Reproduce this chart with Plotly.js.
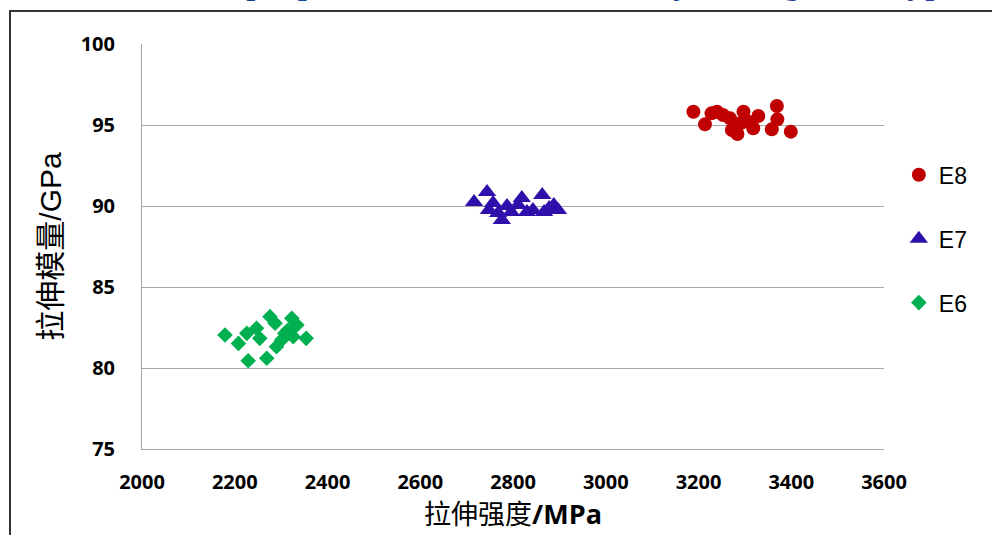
<!DOCTYPE html>
<html>
<head>
<meta charset="utf-8">
<script src="https://cdn.plot.ly/plotly-3.0.1.min.js"></script>
<style>
  html, body { margin: 0; padding: 0; background: #fff; }
  #wrap { position: relative; width: 992px; height: 535px; overflow: hidden; }
  #chart { position: absolute; left: 0; top: 0; width: 992px; height: 535px; }
  #frame { position: absolute; left: 9px; top: 10px; width: 990px; height: 540px;
           border-left: 2px solid #333; border-top: 2px solid #333; pointer-events: none; }
</style>
</head>
<body>
<div id="wrap">
  <div id="chart"></div>
  <div id="frame"></div>
</div>
<script>
// Series names
const seriesNames = ["E8", "E7", "E6"];

// E8: tensile strength (MPa) / tensile modulus (GPa)
const e8Strength = [3189, 3214, 3228, 3240, 3253, 3268, 3272, 3284, 3297, 3290, 3307, 3318, 3329, 3358, 3369, 3370, 3399];
const e8Modulus  = [95.82, 95.04, 95.72, 95.82, 95.62, 95.41, 94.69, 94.44, 95.82, 95.10, 95.20, 94.80, 95.56, 94.73, 96.17, 95.35, 94.59];

// E7
const e7Strength = [2716, 2744, 2748, 2757, 2768, 2776, 2787, 2796, 2811, 2819, 2830, 2843, 2863, 2867, 2878, 2888, 2897];
const e7Modulus  = [90.25, 90.86, 89.75, 90.19, 89.57, 89.14, 90.00, 89.63, 90.06, 90.49, 89.63, 89.75, 90.68, 89.63, 89.88, 90.06, 89.75];

// E6
const e6Strength = [2179, 2208, 2226, 2229, 2247, 2254, 2269, 2276, 2287, 2290, 2301, 2308, 2315, 2323, 2334, 2326, 2354];
const e6Modulus  = [82.04, 81.52, 82.14, 80.45, 82.45, 81.83, 80.60, 83.17, 82.76, 81.31, 81.73, 82.14, 82.35, 83.07, 82.65, 81.93, 81.83];

// Axis ticks
const xTicks = [2000, 2200, 2400, 2600, 2800, 3000, 3200, 3400, 3600];
const yTicks = [75, 80, 85, 90, 95, 100];

const traces = [
  { x: e8Strength, y: e8Modulus, name: seriesNames[0], legendgroup: "g1", type: "scatter", mode: "markers",
    marker: { symbol: "circle", size: 14, color: "#c00000" } },
  { x: e7Strength, y: e7Modulus, name: seriesNames[1], legendgroup: "g2", type: "scatter", mode: "markers",
    marker: { symbol: "triangle-up", size: 16, color: "#2f10ab" } },
  { x: e6Strength, y: e6Modulus, name: seriesNames[2], legendgroup: "g3", type: "scatter", mode: "markers",
    marker: { symbol: "diamond", size: 12, color: "#00b050" } }
];

const tickFont = { family: "Open Sans, Lato, sans-serif", size: 20, color: "#000", weight: 700 };

const layout = {
  width: 992, height: 535,
  margin: { l: 142, r: 108, t: 44, b: 86 },
  paper_bgcolor: "#fff", plot_bgcolor: "#fff",
  showlegend: true,
  legend: {
    x: 1.02, xanchor: "left", y: 0.73, yanchor: "top",
    font: { family: "Liberation Sans, Arial, sans-serif", size: 23, color: "#000" },
    tracegroupgap: 31, traceorder: "grouped", bgcolor: "rgba(0,0,0,0)"
  },
  xaxis: {
    range: [2000, 3600], tickvals: xTicks, ticktext: xTicks.map(String),
    showgrid: false, zeroline: false, showline: true, linecolor: "#a6a6a6", linewidth: 1,
    ticks: "", tickfont: tickFont, ticklabelstandoff: 15,
    title: { text: "拉伸强度<b>/MPa</b>", standoff: 11,
             font: { family: "Open Sans, Noto Sans CJK SC, sans-serif", size: 27, color: "#000" } },
    fixedrange: true
  },
  yaxis: {
    range: [75, 100], tickvals: yTicks, ticktext: yTicks.map(String),
    showgrid: true, gridcolor: "#a6a6a6", gridwidth: 1, zeroline: false,
    showline: true, linecolor: "#a6a6a6", linewidth: 1,
    ticks: "", tickfont: tickFont, ticklabelstandoff: 22,
    title: { text: "拉伸模量/GPa", standoff: 10,
             font: { family: "Liberation Sans, Noto Sans CJK SC, sans-serif", size: 30, color: "#000" } },
    fixedrange: true
  },
  annotations: [
    { text: "Tensile properties versus modulus by testing three types",
      xref: "paper", yref: "paper", x: 1.13, y: 1.102, xanchor: "right", yanchor: "bottom",
      showarrow: false,
      font: { family: "Liberation Serif, DejaVu Serif, serif", size: 38, color: "#1f3f9f", style: "italic" } }
  ]
};

Plotly.newPlot("chart", traces, layout, { displayModeBar: false, staticPlot: true });
</script>
</body>
</html>
